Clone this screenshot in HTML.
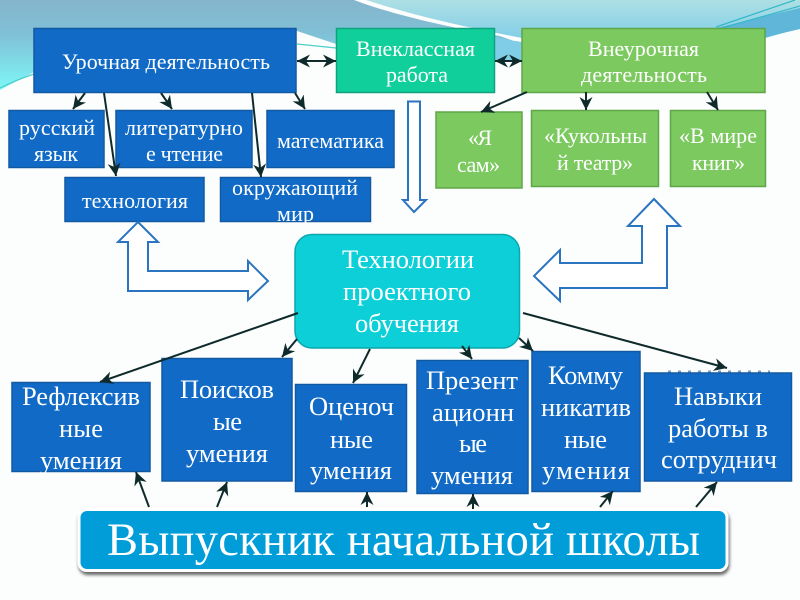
<!DOCTYPE html>
<html><head><meta charset="utf-8"><style>
html,body{margin:0;padding:0;background:#fff}
svg{display:block}
text{font-family:"Liberation Serif","DejaVu Serif",serif;fill:#fff;text-anchor:middle}
.a{stroke:#0f2a2a;stroke-width:2;fill:none;marker-end:url(#m)}
.b{fill:#116bc6;stroke:#1259a4;stroke-width:1.5}
.g{fill:#7bc95f;stroke:#5fa648;stroke-width:1.5}
.o{fill:#fff;stroke:#2a74c0;stroke-width:2}
.s{font-size:22px}.l{font-size:26.500px}
</style></head><body>
<svg width="800" height="600" viewBox="0 0 800 600" xmlns="http://www.w3.org/2000/svg">
<defs>
<linearGradient id="bg" gradientUnits="userSpaceOnUse" x1="0" y1="0" x2="0" y2="85"><stop offset="0" stop-color="#84b5cc"/><stop offset="0.4" stop-color="#80c0d6"/><stop offset="1" stop-color="#7ef2f4"/></linearGradient>
<linearGradient id="bg2" gradientUnits="userSpaceOnUse" x1="0" y1="0" x2="0" y2="40"><stop offset="0" stop-color="#aee0e4"/><stop offset="1" stop-color="#80cde8"/></linearGradient>
<marker id="m" markerWidth="14" markerHeight="14" refX="13" refY="6.500" orient="auto" markerUnits="userSpaceOnUse"><path d="M0 0L13 6.500L0 13L4 6.500Z" fill="#0f2a2a"/></marker>
<marker id="ms" markerWidth="14" markerHeight="14" refX="0" refY="6.500" orient="auto" markerUnits="userSpaceOnUse"><path d="M13 0L0 6.500L13 13L9 6.500Z" fill="#0f2a2a"/></marker>
<filter id="sh" x="-5%" y="-20%" width="110%" height="140%"><feDropShadow dx="1" dy="3" stdDeviation="1.500" flood-color="#000" flood-opacity=".6"/></filter>
</defs>
<rect width="800" height="600" fill="#fcfdfd"/>
<path d="M0 0H354C385 12 440 26 500 36L522 44V62H495V45L336 44L297 31L34 72L0 90Z" fill="url(#bg)"/>
<path d="M366 0H800V28L766 38L522 38C470 28 415 16 366 0Z" fill="url(#bg2)"/>
<path d="M495 38L522 42V60H495Z" fill="#80cde8"/>
<path d="M716 28L800 8V29L766 37Z" fill="#5fb6d8"/>
<path d="M716 27L795 0M722 28L800 6" stroke="#36b8c8" stroke-width="1.200" fill="none"/>
<path d="M0 88C12 82 22 78 34 74M297 44L336 48" stroke="#4ad0c8" stroke-width="1.200" fill="none"/>

<!-- Top row -->
<rect class="b" x="34" y="28.500" width="262" height="64"/>
<text class="s" x="166" y="69" textLength="208">Урочная деятельность</text>
<rect x="336.500" y="28.500" width="158" height="64" fill="#10cf9b" stroke="#0ea37e" stroke-width="1.500"/>
<text class="s" x="415.500" y="56" textLength="119">Внеклассная</text>
<text class="s" x="417" y="82" textLength="62">работа</text>
<rect class="g" x="522" y="28.500" width="243" height="64"/>
<text class="s" x="643.500" y="56" textLength="111">Внеурочная</text>
<text class="s" x="644" y="82" textLength="126">деятельность</text>

<rect class="b" x="9" y="110.500" width="95" height="57"/>
<text class="s" x="57" y="135" textLength="76">русский</text><text class="s" x="56" y="161" textLength="44">язык</text>
<rect class="b" x="116" y="110.500" width="136" height="57"/>
<text class="s" x="184" y="135" textLength="118">литературно</text><text class="s" x="184.500" y="161" textLength="77">е чтение</text>
<rect class="b" x="267" y="110.500" width="127" height="57"/>
<text class="s" x="330.500" y="148" textLength="107">математика</text>
<rect class="b" x="65" y="177.500" width="139" height="44"/>
<text class="s" x="135" y="208" textLength="106">технология</text>
<rect class="b" x="220.500" y="177.500" width="150" height="44"/>
<text class="s" x="295" y="195" textLength="126">окружающий</text><text class="s" x="295.500" y="221" textLength="37">мир</text>

<rect class="g" x="436" y="112" width="86" height="76"/>
<text class="s" x="480" y="145" textLength="24">«Я</text><text class="s" x="478.500" y="172" textLength="43">сам»</text>
<rect class="g" x="531.500" y="110.500" width="127" height="76"/>
<text class="s" x="595.500" y="143" textLength="103">«Кукольны</text><text class="s" x="595" y="170" textLength="76">й театр»</text>
<rect class="g" x="670.500" y="110.500" width="95" height="76"/>
<text class="s" x="718" y="143" textLength="78">«В мире</text><text class="s" x="718.500" y="170" textLength="53">книг»</text>

<!-- Hollow arrows -->
<path class="o" d="M408 101.500H420V200H426L414 212L403 200H408Z"/>
<path class="o" d="M138 222L158 242H148V271H248V261L268 281L248 300V291H128V242H118Z"/>
<path class="o" d="M654 199L680 226H667V288H560V301L534 276L560 250V263H642V226H628Z"/>

<!-- Centre -->
<rect x="295" y="234.500" width="224.500" height="113.500" rx="17" fill="#0dcfd8" stroke="#0aa7ac" stroke-width="1.500"/>
<text class="l" x="408" y="268" textLength="132">Технологии</text>
<text class="l" x="407" y="300" textLength="128">проектного</text>
<text class="l" x="407" y="332" textLength="104">обучения</text>

<!-- Skill boxes -->
<rect class="b" x="12" y="382.500" width="138" height="89"/>
<text class="l" x="81" y="405" textLength="118">Рефлексив</text><text class="l" x="81" y="437" textLength="44">ные</text><text class="l" x="81" y="469" textLength="82">умения</text>
<rect class="b" x="162" y="358.500" width="130" height="122.500"/>
<text class="l" x="227" y="398" textLength="94">Поисков</text><text class="l" x="227.500" y="430" textLength="29">ые</text><text class="l" x="227" y="462" textLength="82">умения</text>
<rect class="b" x="295.500" y="384.500" width="111" height="107"/>
<text class="l" x="351.500" y="415" textLength="85">Оценоч</text><text class="l" x="351.500" y="448" textLength="43">ные</text><text class="l" x="351" y="479" textLength="82">умения</text>
<rect class="b" x="417" y="360.500" width="111" height="133"/>
<text class="l" x="472" y="389" textLength="92">Презент</text><text class="l" x="473" y="421" textLength="82">ационн</text><text class="l" x="473" y="452" textLength="28">ые</text><text class="l" x="472" y="484" textLength="82">умения</text>
<rect class="b" x="532" y="351.500" width="108" height="140"/>
<text class="l" x="585.500" y="384" textLength="75">Комму</text><text class="l" x="586" y="416" textLength="90">никатив</text><text class="l" x="585.500" y="448" textLength="43">ные</text><text class="l" x="586" y="479" textLength="88">умения</text>
<path d="M668 371.500H770" stroke="#1a5a9a" stroke-width="2" stroke-dasharray="3 7" stroke-opacity=".6" fill="none"/>
<rect class="b" x="644.500" y="373" width="147" height="108"/>
<text class="l" x="718" y="405" textLength="88">Навыки</text><text class="l" x="718" y="437" textLength="100">работы в</text><text class="l" x="719" y="468" textLength="116">сотруднич</text>

<!-- Graduate -->
<rect x="79" y="509.500" width="648" height="61" rx="8" fill="#049dd9" stroke="#fff" stroke-width="3" filter="url(#sh)"/>
<text x="403.500" y="555" style="font-size:46.500px" textLength="593">Выпускник начальной школы</text>

<!-- Connectors -->
<path class="a" d="M85 93L73 109"/>
<path class="a" d="M161 93L172 109"/>
<path class="a" d="M295 93L305 109"/>
<path class="a" d="M104 93L116 176"/>
<path class="a" d="M252 93L261 177"/>
<path class="a" d="M527 92L481 112"/>
<path class="a" d="M586 92V110"/>
<path class="a" d="M707 92L718 110"/>
<path class="a" marker-start="url(#ms)" d="M297 61H336"/>
<path class="a" marker-start="url(#ms)" d="M495 61H522"/>
<path class="a" d="M298 313L100 382"/>
<path class="a" d="M297 339L282 357"/>
<path class="a" d="M370 349L353 383"/>
<path class="a" d="M462 346L472 359"/>
<path class="a" d="M519 338L533 351"/>
<path class="a" d="M523 313L727 368"/>
<path class="a" d="M149 507L136 472"/>
<path class="a" d="M217 507L227 482"/>
<path class="a" d="M367 507V492"/>
<path class="a" d="M473 509V494"/>
<path class="a" d="M600 507L613 491"/>
<path class="a" d="M696 507L717 482"/>
</svg>
</body></html>
